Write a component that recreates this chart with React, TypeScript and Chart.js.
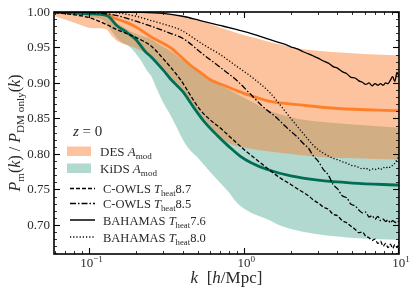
import React, { useEffect, useRef } from 'react';
import { Chart, registerables } from 'chart.js';
Chart.register(...registerables);

// ---------- data ----------
const DES_K = [0.06, 0.08, 0.106, 0.127, 0.14, 0.154, 0.184, 0.213, 0.248, 0.3, 0.333, 0.4, 0.47, 0.55, 0.7, 0.8, 0.94, 1.2, 1.5, 2.2, 3.5, 5, 7, 10];
const DES_UP = [1.0, 1.0, 1.0, 1.0, 1.0, 1.0, 1.0, 1.0, 0.9995, 0.9985, 0.997, 0.994, 0.99, 0.986, 0.978, 0.974, 0.969, 0.963, 0.957, 0.949, 0.944, 0.942, 0.94, 0.939];
const DES_LO = [0.994, 0.985, 0.977, 0.976, 0.966, 0.958, 0.952, 0.946, 0.94, 0.921, 0.909, 0.891, 0.869, 0.85, 0.824, 0.815, 0.81, 0.806, 0.803, 0.799, 0.795, 0.794, 0.793, 0.792];
const DES_MEAN_K = [0.06, 0.1, 0.127, 0.143, 0.175, 0.203, 0.25, 0.333, 0.386, 0.45, 0.52, 0.6, 0.75, 0.9, 1.1, 1.47, 2.3, 4, 10];
const DES_MEAN = [1.0, 1.0, 0.999, 0.992, 0.985, 0.978, 0.965, 0.95, 0.938, 0.925, 0.915, 0.905, 0.896, 0.889, 0.882, 0.874, 0.869, 0.864, 0.861];

const KIDS_K = [0.06, 0.1, 0.127, 0.14, 0.154, 0.184, 0.213, 0.236, 0.25, 0.273, 0.3, 0.333, 0.426, 0.5, 0.6, 0.78, 0.9, 1.09, 1.41, 1.71, 2.3, 4.8, 10];
const KIDS_UP = [1.0, 0.999, 0.997, 0.988, 0.983, 0.973, 0.967, 0.964, 0.962, 0.956, 0.951, 0.945, 0.928, 0.917, 0.905, 0.892, 0.884, 0.875, 0.862, 0.856, 0.849, 0.842, 0.837];
const KIDS_LO = [0.999, 0.993, 0.986, 0.972, 0.961, 0.95, 0.933, 0.917, 0.91, 0.891, 0.872, 0.855, 0.811, 0.795, 0.775, 0.748, 0.731, 0.718, 0.708, 0.699, 0.691, 0.682, 0.679];
const KIDS_MEAN_K = [0.06, 0.1, 0.13, 0.15, 0.175, 0.2, 0.23, 0.25, 0.3, 0.333, 0.4, 0.47, 0.55, 0.67, 0.8, 0.94, 1.1, 1.41, 2, 3, 5, 10];
const KIDS_MEAN = [1.0, 0.9975, 0.995, 0.981, 0.971, 0.961, 0.944, 0.937, 0.918, 0.906, 0.888, 0.866, 0.846, 0.826, 0.81, 0.797, 0.788, 0.778, 0.769, 0.763, 0.759, 0.756];

// simulation curves: low-k part + shared high-k grid
const SIM_K_HI = [2.0, 2.2, 2.4, 2.6, 2.8, 3.0, 3.25, 3.5, 3.75, 4.0, 4.3, 4.6, 4.9, 5.2, 5.5, 5.8, 6.1, 6.4, 6.7, 7.0, 7.3, 7.6, 7.9, 8.2, 8.5, 8.8, 9.1, 9.4, 9.7, 10.0];

const COWLS87_K = [0.06, 0.08, 0.1, 0.13, 0.151, 0.2, 0.25, 0.3, 0.386, 0.52, 0.73, 1.0, 1.3, 1.71];
const COWLS87_V = [0.999, 0.996, 0.992, 0.982, 0.975, 0.964, 0.952, 0.934, 0.905, 0.862, 0.833, 0.806, 0.786, 0.766];
const COWLS87_HI = [0.757, 0.751, 0.746, 0.741, 0.735, 0.731, 0.725, 0.722, 0.715, 0.713, 0.706, 0.703, 0.698, 0.694, 0.689, 0.69, 0.684, 0.682, 0.678, 0.68, 0.674, 0.677, 0.67, 0.674, 0.668, 0.673, 0.667, 0.672, 0.668, 0.676];

const COWLS85_K = [0.06, 0.1, 0.143, 0.2, 0.25, 0.333, 0.4, 0.545, 0.7, 0.9, 1.1, 1.33, 1.6, 1.8];
const COWLS85_V = [1.0, 0.999, 0.996, 0.987, 0.98, 0.97, 0.963, 0.94, 0.922, 0.903, 0.884, 0.866, 0.852, 0.841];
const COWLS85_HI = [0.832, 0.824, 0.815, 0.808, 0.797, 0.79, 0.778, 0.77, 0.757, 0.751, 0.741, 0.738, 0.729, 0.727, 0.721, 0.717, 0.718, 0.711, 0.713, 0.708, 0.712, 0.706, 0.708, 0.705, 0.707, 0.703, 0.706, 0.704, 0.703, 0.706];

const BAH76_K = [0.06, 0.1, 0.2, 0.3, 0.4, 0.52, 0.7, 0.9, 1.1, 1.47, 1.8];
const BAH76_V = [1.0, 1.0, 0.9995, 0.998, 0.994, 0.988, 0.981, 0.975, 0.97, 0.961, 0.955];
const BAH76_HI = [0.951, 0.948, 0.944, 0.941, 0.938, 0.935, 0.931, 0.928, 0.923, 0.921, 0.916, 0.913, 0.908, 0.907, 0.903, 0.901, 0.898, 0.9, 0.896, 0.899, 0.897, 0.899, 0.897, 0.9, 0.899, 0.904, 0.909, 0.902, 0.915, 0.909];

const BAH80_K = [0.06, 0.12, 0.15, 0.2, 0.25, 0.333, 0.386, 0.545, 0.7, 0.9, 1.14, 1.47, 1.75];
const BAH80_V = [1.0, 1.0, 0.999, 0.994, 0.988, 0.98, 0.975, 0.954, 0.94, 0.923, 0.907, 0.886, 0.866];
const BAH80_HI = [0.85, 0.839, 0.829, 0.82, 0.812, 0.806, 0.801, 0.797, 0.794, 0.792, 0.789, 0.787, 0.784, 0.783, 0.781, 0.779, 0.78, 0.777, 0.779, 0.778, 0.78, 0.778, 0.781, 0.78, 0.782, 0.781, 0.784, 0.787, 0.792, 0.796];

const Y_TICKS = [0.7, 0.75, 0.8, 0.85, 0.9, 0.95, 1.0];
const Y_TICK_LABELS = ['0.70', '0.75', '0.80', '0.85', '0.90', '0.95', '1.00'];
const X_TICKS = [0.1, 1, 10];
const X_TICK_EXP = ['\u22121', '0', '1'];

// ---------- styling ----------
const FONT = '"Liberation Serif", "DejaVu Serif", serif';
const TEXT = '#2a2a2a';
const DES_FILL = 'rgba(251,115,30,0.43)';
const KIDS_FILL = 'rgba(0,128,100,0.30)';
const DES_LINE = 'rgb(255,128,42)';
const KIDS_LINE = 'rgb(0,110,85)';
const DASH = [4, 2];
const DASHDOT = [6, 2, 1.5, 2];
const DOT = [1.2, 2];

type Part = { t: string; it?: boolean; sub?: boolean; sup?: boolean };

function partFont(p: Part, size: number) {
  const s = p.sub || p.sup ? size * 0.7 : size;
  return `${p.it ? 'italic ' : ''}${s}px ${FONT}`;
}
function richWidth(ctx: CanvasRenderingContext2D, parts: Part[], size: number) {
  let w = 0;
  for (const p of parts) { ctx.font = partFont(p, size); w += ctx.measureText(p.t).width; }
  return w;
}
function drawRich(ctx: CanvasRenderingContext2D, x: number, y: number, parts: Part[], size: number, align: 'left' | 'center' = 'left') {
  let cx = align === 'center' ? x - richWidth(ctx, parts, size) / 2 : x;
  ctx.textAlign = 'left';
  ctx.textBaseline = 'alphabetic';
  for (const p of parts) {
    ctx.font = partFont(p, size);
    const dy = p.sub ? size * 0.25 : p.sup ? -size * 0.42 : 0;
    ctx.fillText(p.t, cx, y + dy);
    cx += ctx.measureText(p.t).width;
  }
}

function pts(ks: number[], vs: number[]) {
  return ks.map((k, i) => ({ x: k, y: vs[i] }));
}

const decoPlugin = {
  id: 'deco',
  afterDraw(chart: any) {
    const { ctx, chartArea: a, scales } = chart;
    const xs = scales.x, ys = scales.y;
    ctx.save();
    ctx.strokeStyle = '#000';
    ctx.fillStyle = TEXT;
    const line = (x1: number, y1: number, x2: number, y2: number) => {
      ctx.beginPath(); ctx.moveTo(x1, y1); ctx.lineTo(x2, y2); ctx.stroke();
    };
    // y ticks
    for (let i = 66; i <= 100; i++) {
      const major = i % 5 === 0;
      const py = Math.round(ys.getPixelForValue(i / 100)) + 0.5;
      const len = major ? 6 : 3;
      ctx.lineWidth = major ? 1.1 : 0.8;
      line(a.left, py, a.left + len, py);
      line(a.right, py, a.right - len, py);
    }
    // x ticks
    for (const d of [0.01, 0.1, 1]) {
      for (let m = 1; m <= 9; m++) {
        const v = m * d;
        if (v < xs.min || v > xs.max + 1e-9) continue;
        const major = m === 1;
        const px = Math.round(xs.getPixelForValue(v)) + 0.5;
        const len = major ? 6 : 3;
        ctx.lineWidth = major ? 1.1 : 0.8;
        line(px, a.bottom, px, a.bottom - len);
        line(px, a.top, px, a.top + len);
      }
    }
    {
      const px = Math.round(xs.getPixelForValue(10)) - 0.5;
      ctx.lineWidth = 1.1;
      line(px, a.bottom, px, a.bottom - 6);
      line(px, a.top, px, a.top + 6);
    }
    // frame
    ctx.lineWidth = 1.6;
    ctx.strokeRect(a.left, a.top, a.right - a.left, a.bottom - a.top);

    // y tick labels
    ctx.font = `13px ${FONT}`;
    ctx.textAlign = 'right';
    ctx.textBaseline = 'middle';
    Y_TICKS.forEach((v, i) => {
      ctx.fillText(Y_TICK_LABELS[i], a.left - 4, ys.getPixelForValue(v) + 0.5);
    });
    // x tick labels
    X_TICKS.forEach((v, i) => {
      drawRich(ctx, xs.getPixelForValue(v) + 2, a.bottom + 13, [{ t: '10' }, { t: X_TICK_EXP[i], sup: true }], 13, 'center');
    });
    // x axis label
    drawRich(ctx, (a.left + a.right) / 2, 283, [
      { t: 'k', it: true }, { t: '  [' }, { t: 'h', it: true }, { t: '/Mpc]' },
    ], 17, 'center');
    // y axis label
    ctx.save();
    ctx.translate(20, (a.top + a.bottom) / 2);
    ctx.rotate(-Math.PI / 2);
    drawRich(ctx, 0, 0, [
      { t: 'P', it: true }, { t: 'm', sub: true }, { t: '(' }, { t: 'k', it: true }, { t: ') / ' },
      { t: 'P', it: true }, { t: 'DM only', sub: true }, { t: '(' }, { t: 'k', it: true }, { t: ')' },
    ], 16, 'center');
    ctx.restore();

    // legend
    drawRich(ctx, 73, 135.5, [{ t: 'z', it: true }, { t: ' = 0' }], 15);
    ctx.fillStyle = DES_FILL;
    ctx.fillRect(67, 146.5, 24, 9.5);
    ctx.fillStyle = KIDS_FILL;
    ctx.fillRect(67, 163.5, 24, 9.5);
    ctx.fillStyle = TEXT;
    drawRich(ctx, 100, 155.5, [{ t: 'DES ' }, { t: 'A', it: true }, { t: 'mod', sub: true }], 13);
    drawRich(ctx, 100, 172.5, [{ t: 'KiDS ' }, { t: 'A', it: true }, { t: 'mod', sub: true }], 13);
    const entries: [number, number[], string, string][] = [
      [188.5, DASH, 'C-OWLS ', '8.7'],
      [203.5, DASHDOT, 'C-OWLS ', '8.5'],
      [220, [], 'BAHAMAS ', '7.6'],
      [237, DOT, 'BAHAMAS ', '8.0'],
    ];
    for (const [ly, dash, name, val] of entries) {
      ctx.setLineDash(dash);
      ctx.lineWidth = 1.5;
      line(70, ly, 95, ly);
      ctx.setLineDash([]);
      drawRich(ctx, 103, ly + 4.5, [{ t: name }, { t: 'T', it: true }, { t: 'heat', sub: true }, { t: val }], 12.5);
    }
    ctx.restore();
  },
};

export default function App() {
  const ref = useRef<HTMLCanvasElement>(null);
  useEffect(() => {
    if (!ref.current) return;
    const common = { pointRadius: 0, cubicInterpolationMode: 'monotone' as const };
    const edge = { ...common, borderWidth: 0, borderColor: 'rgba(0,0,0,0)' };
    const chart = new Chart(ref.current, {
      type: 'line',
      data: {
        datasets: [
          { ...edge, data: pts(DES_K, DES_UP), fill: false, order: 9 },
          { ...edge, data: pts(DES_K, DES_LO), fill: '-1', backgroundColor: DES_FILL, order: 9 },
          { ...edge, data: pts(KIDS_K, KIDS_UP), fill: false, order: 10 },
          { ...edge, data: pts(KIDS_K, KIDS_LO), fill: '-1', backgroundColor: KIDS_FILL, order: 10 },
          { ...common, data: pts(DES_MEAN_K, DES_MEAN), borderColor: DES_LINE, borderWidth: 2.8, fill: false, order: 6 },
          { ...common, data: pts(KIDS_MEAN_K, KIDS_MEAN), borderColor: KIDS_LINE, borderWidth: 2.8, fill: false, order: 5 },
          { ...common, data: pts([...COWLS87_K, ...SIM_K_HI], [...COWLS87_V, ...COWLS87_HI]), borderColor: '#000', borderWidth: 1.3, borderDash: DASH, fill: false, order: 2 },
          { ...common, data: pts([...COWLS85_K, ...SIM_K_HI], [...COWLS85_V, ...COWLS85_HI]), borderColor: '#000', borderWidth: 1.3, borderDash: DASHDOT, fill: false, order: 2 },
          { ...common, data: pts([...BAH76_K, ...SIM_K_HI], [...BAH76_V, ...BAH76_HI]), borderColor: '#000', borderWidth: 1.3, fill: false, order: 2 },
          { ...common, data: pts([...BAH80_K, ...SIM_K_HI], [...BAH80_V, ...BAH80_HI]), borderColor: '#000', borderWidth: 1.3, borderDash: DOT, fill: false, order: 2 },
        ],
      },
      options: {
        animation: false,
        responsive: false,
        devicePixelRatio: 1,
        layout: { padding: { left: 54, right: 17, top: 12, bottom: 40 } },
        plugins: { legend: { display: false }, tooltip: { enabled: false } },
        events: [],
        scales: {
          x: { type: 'logarithmic', min: 0.059, max: 10, display: false },
          y: { type: 'linear', min: 0.659, max: 1.0, display: false },
        },
      },
      plugins: [decoPlugin],
    } as any);
    return () => chart.destroy();
  }, []);
  return (
    <div style={{ position: 'fixed', left: 0, top: 0, width: 416, height: 294, background: '#fff' }}>
      <canvas ref={ref} width={416} height={294} style={{ display: 'block', width: 416, height: 294 }} />
    </div>
  );
}
